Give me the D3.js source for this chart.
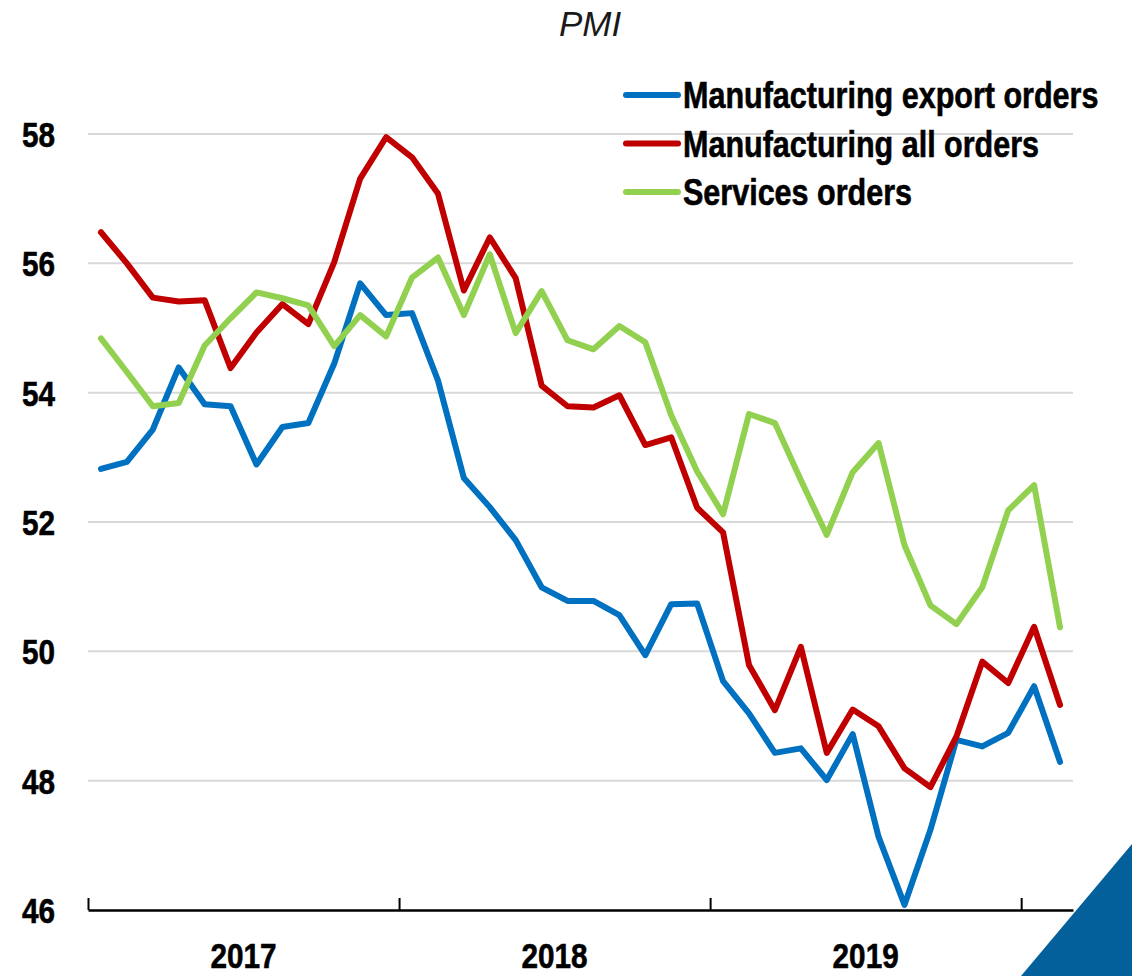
<!DOCTYPE html>
<html>
<head>
<meta charset="utf-8">
<script src="https://cdn.jsdelivr.net/npm/d3@7"></script>
<style>
  html, body { margin: 0; padding: 0; background: #fff; }
  svg text { font-family: "Liberation Sans", Arial, sans-serif; }
</style>
</head>
<body>
<div id="chart"></div>
<script>
// monthly PMI readings, Jan 2017 .. Feb 2020
const months = d3.range(38)
const yearLabels = ["2017", "2018", "2019"]
const yTicks = [46, 48, 50, 52, 54, 56, 58]

const exportOrders = [52.82, 52.93, 53.43, 54.39, 53.82, 53.79, 52.89, 53.47, 53.53, 54.45, 55.69, 55.2,
    55.23, 54.19, 52.68, 52.23, 51.72, 50.99, 50.78, 50.78, 50.56, 49.94, 50.73, 50.74,
    49.54, 49.04, 48.43, 48.5, 48.01, 48.72, 47.13, 46.08, 47.24, 48.63, 48.53, 48.74,
    49.46, 48.29]
const allOrders = [56.48, 56.0, 55.47, 55.41, 55.43, 54.38, 54.93, 55.37, 55.06, 56.02, 57.31, 57.95,
    57.64, 57.08, 55.58, 56.4, 55.77, 54.11, 53.79, 53.77, 53.96, 53.19, 53.31, 52.22,
    51.84, 49.79, 49.09, 50.07, 48.43, 49.1, 48.84, 48.19, 47.9, 48.68, 49.84, 49.51,
    50.38, 49.17]
const servicesOrders = [54.84, 54.32, 53.79, 53.84, 54.73, 55.15, 55.55, 55.46, 55.35, 54.72, 55.2, 54.87,
    55.78, 56.09, 55.2, 56.14, 54.92, 55.57, 54.81, 54.67, 55.03, 54.78, 53.65, 52.78,
    52.12, 53.67, 53.53, 52.65, 51.8, 52.77, 53.22, 51.64, 50.71, 50.42, 50.99, 52.18,
    52.57, 50.37]

const seriesNames = ["Manufacturing export orders", "Manufacturing all orders", "Services orders"]
const seriesColors = ["#0070C0", "#C00000", "#92D050"]
const seriesValues = [exportOrders, allOrders, servicesOrders]

const width = 1132, height = 976
const margin = { left: 88, right: 1073, top: 134, bottom: 910 }
const narrow = 0.825  // Arial Narrow 대용: 가로로 눌러서 사용

const svg = d3.select("#chart").append("svg")
    .attr("width", width)
    .attr("height", height)

// 월 인덱스 기준 x축 (한 달 = 한 칸)
const xScale = d3.scaleLinear().domain([0, 38]).range([margin.left, margin.right])
const yScale = d3.scaleLinear().domain([46, 58]).range([margin.bottom, margin.top])

// gridlines
svg.append("g")
    .selectAll("line")
    .data(yTicks.filter(d => d > 46))
    .enter().append("line")
    .attr("x1", margin.left).attr("x2", margin.right)
    .attr("y1", d => yScale(d)).attr("y2", d => yScale(d))
    .attr("stroke", "#d9d9d9")
    .attr("stroke-width", 2)

// y labels
svg.append("g")
    .selectAll("text")
    .data(yTicks)
    .enter().append("text")
    .attr("transform", d => `translate(55,${yScale(d)}) scale(${narrow},1)`)
    .attr("dy", "0.36em")
    .attr("text-anchor", "end")
    .attr("font-size", 36)
    .attr("font-weight", "bold")
    .attr("stroke", "#000")
    .attr("stroke-width", 0.6)
    .text(d => d)

// x axis, ticks point up into the plot
const xAxis = d3.axisTop(xScale)
    .tickValues([0, 12, 24, 36])
    .tickSize(12)
    .tickSizeOuter(0)
    .tickFormat("")

const gx = svg.append("g")
    .attr("transform", `translate(0,${margin.bottom})`)
    .call(xAxis)
gx.select(".domain").attr("stroke", "#000").attr("stroke-width", 2.5)
gx.selectAll(".tick line").attr("stroke", "#000").attr("stroke-width", 2)

svg.append("g")
    .selectAll("text")
    .data(yearLabels)
    .enter().append("text")
    .attr("transform", (d, i) => `translate(${xScale(i * 12 + 6)},955) scale(${narrow},1)`)
    .attr("dy", "0.36em")
    .attr("text-anchor", "middle")
    .attr("font-size", 36)
    .attr("font-weight", "bold")
    .attr("stroke", "#000")
    .attr("stroke-width", 0.6)
    .text(d => d)

// lines
const line = d3.line()
    .x((d, i) => xScale(months[i] + 0.5))
    .y(d => yScale(d))

svg.append("g")
    .selectAll("path")
    .data(seriesValues)
    .enter().append("path")
    .attr("d", d => line(d))
    .attr("fill", "none")
    .attr("stroke", (d, i) => seriesColors[i])
    .attr("stroke-width", 6)
    .attr("stroke-linejoin", "round")
    .attr("stroke-linecap", "round")

// title
svg.append("text")
    .attr("x", 590)
    .attr("y", 23)
    .attr("dy", "0.36em")
    .attr("text-anchor", "middle")
    .attr("font-size", 35)
    .attr("font-style", "italic")
    .attr("fill", "#1a1a1a")
    .text("PMI")

// legend
const legend = svg.append("g")
const rows = legend.selectAll("g")
    .data(seriesNames)
    .enter().append("g")
    .attr("transform", (d, i) => `translate(626,${95 + i * 48.5})`)

rows.append("line")
    .attr("x1", 0).attr("x2", 52)
    .attr("stroke", (d, i) => seriesColors[i])
    .attr("stroke-width", 6)
    .attr("stroke-linecap", "round")

rows.append("text")
    .attr("transform", `translate(57,0) scale(${narrow},1)`)
    .attr("dy", "0.36em")
    .attr("font-size", 37)
    .attr("font-weight", "bold")
    .attr("stroke", "#000")
    .attr("stroke-width", 0.6)
    .text(d => d)

// corner decoration
svg.append("path")
    .attr("d", "M1132,844 L1132,976 L1021,976 Z")
    .attr("fill", "#03609A")
</script>
</body>
</html>
